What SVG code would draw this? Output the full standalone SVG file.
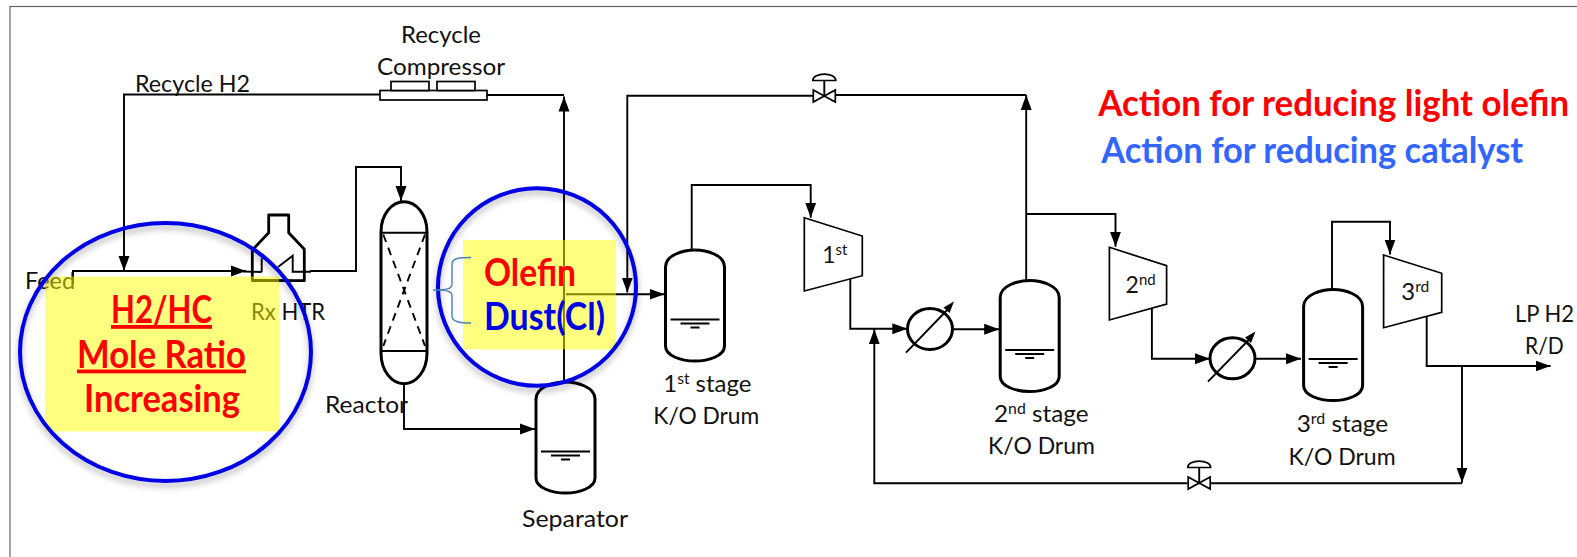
<svg xmlns="http://www.w3.org/2000/svg" width="1577" height="557" viewBox="0 0 1577 557">
<style>
text{font-family:Lato,"Open Sans","Liberation Sans",sans-serif;font-size:23px;fill:#111}
.sup{font-size:15px}
.big{font-weight:bold;font-size:38px;fill:#f00}
.u{text-decoration:underline}
.bl{fill:#0000e6}
.act{font-weight:bold;font-size:36px;fill:#f00}
.v{fill:#fff;stroke:#000;stroke-width:3}
.t{fill:#fff;stroke:#000;stroke-width:1.700}
.l{fill:none;stroke:#000;stroke-width:1.900}
.y{fill:#ff0;fill-opacity:.5}
.o{fill:none;stroke:#0000e6;stroke-width:4;filter:url(#sh)}
.b{fill:none;stroke:#4a7ebb;stroke-width:1.400}
</style>
<defs>
<marker id="a" markerUnits="userSpaceOnUse" markerWidth="16" markerHeight="12" refX="15" refY="6" orient="auto"><path d="M0 .5L15 6L0 11.500Z" fill="#000"/></marker>
<filter id="sh" x="-10%" y="-10%" width="120%" height="125%"><feDropShadow dx="0" dy="4" stdDeviation="3" flood-color="#000" flood-opacity=".3"/></filter>
<g id="drum"><path class="v" d="M0 17C0 5 18 0 29.500 0C41 0 59 5 59 17V96C59 106 43 111 29.500 111C16 111 0 106 0 96Z"/><path class="l" d="M5 69.500H54M15 73.500H44M25 77.500H34"/></g>
<g id="valve"><path class="t" d="M-11.500 -15.500C-11.500 -24 11.500 -24 11.500 -15.500Z"/><path class="l" d="M0 -15.500V0"/><path class="t" d="M-11 -6L11 6V-6L-11 6Z"/></g>
</defs>
<rect x="10" y="6.500" width="1580" height="570" fill="#fff" stroke="#666" stroke-width="1.200"/>

<g id="connectors">
<path class="l" d="M380 94.500H124V271" marker-end="url(#a)"/>
<path class="l" d="M487 95H564"/>
<path class="l" d="M73 284V271H246" marker-end="url(#a)"/>
<path class="l" d="M243 271.500L261.700 272"/>
<path class="l" d="M310 271H356V167H401V201" marker-end="url(#a)"/>
<path class="l" d="M404 384V429H535" marker-end="url(#a)"/>
<path class="l" d="M564 382V96.500" marker-end="url(#a)"/>
<path class="l" d="M813 95.700H627.300V292.500" marker-end="url(#a)"/>
<path class="l" d="M836 95H1026.200"/>
<path class="l" d="M566 294.300H664.500" marker-end="url(#a)"/>
<path class="l" d="M691.700 250V185H810.700V217.700" marker-end="url(#a)"/>
<path class="l" d="M850.300 278V328.700H907.300" marker-end="url(#a)"/>
<path class="l" d="M1462 483.300H1210.600M1187.700 483.300H874.300V329.300" marker-end="url(#a)"/>
<path class="l" d="M953.400 329.300H999.200" marker-end="url(#a)"/>
<path class="l" d="M1026.200 280V95" marker-end="url(#a)"/>
<path class="l" d="M1026.200 214H1115.500V246.700" marker-end="url(#a)"/>
<path class="l" d="M1151.900 308V358.700H1210" marker-end="url(#a)"/>
<path class="l" d="M1255.400 358.700H1301" marker-end="url(#a)"/>
<path class="l" d="M1332 289V221.700H1390V254.500" marker-end="url(#a)"/>
<path class="l" d="M1426.700 316V366H1550.600" marker-end="url(#a)"/>
<path class="l" d="M1462 366V482.700" marker-end="url(#a)"/>
</g>

<g id="recycle-compressor">
<rect class="t" x="380" y="90.500" width="107" height="9.500"/>
<rect class="t" x="391" y="81.500" width="38" height="9"/>
<rect class="t" x="437" y="81.500" width="38" height="9"/>
<text x="401" y="42.500" textLength="80" lengthAdjust="spacingAndGlyphs">Recycle</text>
<text x="377" y="74.500" textLength="128" lengthAdjust="spacingAndGlyphs">Compressor</text>
</g>
<text id="recycle-h2" x="135" y="91.500" textLength="115" lengthAdjust="spacingAndGlyphs">Recycle H2</text>
<text id="feed" x="25" y="288.500" textLength="50" lengthAdjust="spacingAndGlyphs">Feed</text>

<g id="rx-htr">
<path fill="none" stroke="#000" stroke-width="2.800" stroke-linejoin="round" d="M252.300 280.500V250L268.700 232.700V215H288.700V232.700L304.300 249.300V280.700Z"/>
<path class="l" d="M261.700 272V258.300M278 267L292.700 255.700V271.700H310V270.700"/>
<text x="251" y="319.500" textLength="74" lengthAdjust="spacingAndGlyphs">Rx HTR</text>
</g>

<g id="reactor">
<path fill="#fff" stroke="#000" stroke-width="3" d="M381 232C381 214 392 201.800 404 201.800C416 201.800 427 214 427 232V353C427 371 416 383.700 404 383.700C392 383.700 381 371 381 353Z"/>
<path class="l" d="M381 232.700H427M381 351H427"/>
<path fill="none" stroke="#000" stroke-width="1.900" stroke-dasharray="8 6" d="M383.300 234.500L425 346M425 234.500L383.300 346"/>
<text x="325" y="412.500" textLength="83" lengthAdjust="spacingAndGlyphs">Reactor</text>
</g>

<g id="separator">
<use href="#drum" x="536" y="382"/>
<text x="522" y="527" textLength="106" lengthAdjust="spacingAndGlyphs">Separator</text>
</g>

<g id="drum-1">
<use href="#drum" x="665.500" y="250"/>
<text x="663.300" y="392" textLength="88" lengthAdjust="spacingAndGlyphs">1<tspan class="sup" dy="-8">st</tspan><tspan dy="8"> stage</tspan></text>
<text x="653.300" y="423.800" textLength="106" lengthAdjust="spacingAndGlyphs">K/O Drum</text>
</g>
<g id="drum-2">
<use href="#drum" x="1000.200" y="280.500"/>
<text x="994" y="422" textLength="94.500" lengthAdjust="spacingAndGlyphs">2<tspan class="sup" dy="-8">nd</tspan><tspan dy="8"> stage</tspan></text>
<text x="988" y="453.800" textLength="106.900" lengthAdjust="spacingAndGlyphs">K/O Drum</text>
</g>
<g id="drum-3">
<use href="#drum" x="1303.600" y="289.500"/>
<text x="1296.700" y="432" textLength="91.500" lengthAdjust="spacingAndGlyphs">3<tspan class="sup" dy="-8">rd</tspan><tspan dy="8"> stage</tspan></text>
<text x="1288.500" y="464.500" textLength="107.100" lengthAdjust="spacingAndGlyphs">K/O Drum</text>
</g>

<g id="compressor-1">
<path class="t" d="M804.300 217.700L862.300 236V275.700L804.300 291Z"/>
<text x="822.300" y="263" textLength="25" lengthAdjust="spacingAndGlyphs">1<tspan class="sup" dy="-8">st</tspan></text>
</g>
<g id="compressor-2">
<path class="t" d="M1109.400 247.300L1166.600 265.700V304L1109.400 320Z"/>
<text x="1125.600" y="293" textLength="30" lengthAdjust="spacingAndGlyphs">2<tspan class="sup" dy="-8">nd</tspan></text>
</g>
<g id="compressor-3">
<path class="t" d="M1383.600 255L1441.700 273.300V312.300L1383.600 327.700Z"/>
<text x="1401.300" y="299.800" textLength="28" lengthAdjust="spacingAndGlyphs">3<tspan class="sup" dy="-8">rd</tspan></text>
</g>

<g id="cooler-1">
<ellipse class="v" cx="930" cy="329" rx="22.500" ry="20.500"/>
<path class="l" d="M906 352.700L951 306"/><path d="M954 301.500L943.500 307.500L949.500 313Z"/>
</g>
<g id="cooler-2">
<ellipse class="v" cx="1232.500" cy="358.300" rx="22.500" ry="20.500"/>
<path class="l" d="M1208 381.700L1252.500 336"/><path d="M1255.500 331.500L1245 337.500L1251 343Z"/>
</g>

<use id="valve-top" href="#valve" x="824.300" y="96"/>
<use id="valve-bottom" href="#valve" x="1199.200" y="483"/>

<g id="lp-h2">
<text x="1515" y="322" textLength="59" lengthAdjust="spacingAndGlyphs">LP H2</text>
<text x="1525" y="353.800" textLength="38.600" lengthAdjust="spacingAndGlyphs">R/D</text>
</g>

<g id="legend">
<text class="act" x="1098.200" y="116" textLength="471" lengthAdjust="spacingAndGlyphs">Action for reducing light olefin</text>
<text class="act" style="fill:#3366ff" x="1101.200" y="163" textLength="422" lengthAdjust="spacingAndGlyphs">Action for reducing catalyst</text>
</g>

<g id="highlight-ratio">
<rect class="y" x="45" y="276.500" width="234" height="155"/>
<ellipse class="o" cx="165.500" cy="352" rx="145.500" ry="129"/>
<text class="big u" x="111" y="323" textLength="101" lengthAdjust="spacingAndGlyphs">H2/HC</text>
<text class="big u" x="77" y="367.500" textLength="169" lengthAdjust="spacingAndGlyphs">Mole Ratio</text>
<text class="big" x="84" y="412" textLength="156" lengthAdjust="spacingAndGlyphs">Increasing</text>
</g>

<g id="highlight-olefin">
<rect class="y" x="463" y="240" width="153" height="109.300"/>
<ellipse class="o" cx="537" cy="287" rx="99" ry="98.700"/>
<path class="b" d="M471 257.500C460 257.500 452 258 452 264V284C452 289 447 290 433 290C447 290 452 291 452 296V316C452 322 460 323 471 323"/>
<text class="big" x="484" y="286" textLength="92" lengthAdjust="spacingAndGlyphs">Olefin</text>
<text class="big bl" x="484" y="330" textLength="121" lengthAdjust="spacingAndGlyphs">Dust(Cl)</text>
</g>
</svg>
